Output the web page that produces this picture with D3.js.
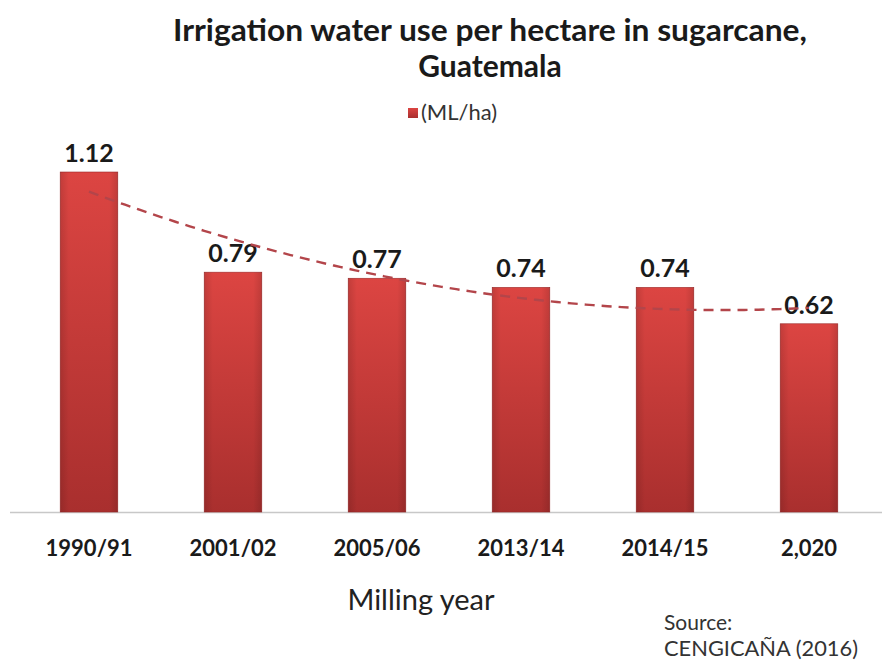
<!DOCTYPE html>
<html>
<head>
<meta charset="utf-8">
<script src="https://cdn.jsdelivr.net/npm/d3@7"></script>
<style>
  body { margin: 0; background: #fff; }
  text { font-family: Lato, "Open Sans", sans-serif; }
</style>
</head>
<body>
<svg id="chart" width="892" height="665"></svg>
<script>
const categories = ['1990/91', '2001/02', '2005/06', '2013/14', '2014/15', '2020']
const categoryLabels = ['1990/91', '2001/02', '2005/06', '2013/14', '2014/15', '2,020']
const waterUse = [1.12, 0.79, 0.77, 0.74, 0.74, 0.62]
const valueLabels = ['1.12', '0.79', '0.77', '0.74', '0.74', '0.62']

const svg = d3.select('#chart')
const baseY = 512

const x = d3.scaleBand().domain(categories).range([17, 881]).paddingInner(0.6).paddingOuter(0.3)
const y = d3.scaleLinear().domain([0, 1.12]).range([baseY, 172])

// bar gradient, lighter at the top
const defs = svg.append('defs')
const grad = defs.append('linearGradient').attr('id', 'barGrad')
  .attr('x1', 0).attr('y1', 0).attr('x2', 0).attr('y2', 1)
grad.append('stop').attr('offset', '0%').attr('stop-color', '#dc4542')
grad.append('stop').attr('offset', '100%').attr('stop-color', '#a92f2e')
const side = defs.append('linearGradient').attr('id', 'sideGrad')
side.append('stop').attr('offset', '0%').attr('stop-color', '#000').attr('stop-opacity', 0.12)
side.append('stop').attr('offset', '15%').attr('stop-color', '#000').attr('stop-opacity', 0)
side.append('stop').attr('offset', '85%').attr('stop-color', '#000').attr('stop-opacity', 0)
side.append('stop').attr('offset', '100%').attr('stop-color', '#000').attr('stop-opacity', 0.12)

// title
svg.append('text').attr('x', 490).attr('y', 41).attr('text-anchor', 'middle')
  .attr('font-size', 30).attr('font-weight', 'bold').attr('fill', '#1a1a1a')
  .attr('textLength', 634).attr('lengthAdjust', 'spacingAndGlyphs')
  .text('Irrigation water use per hectare in sugarcane,')
svg.append('text').attr('x', 490).attr('y', 77).attr('text-anchor', 'middle')
  .attr('font-size', 30).attr('font-weight', 'bold').attr('fill', '#1a1a1a')
  .text('Guatemala')

// legend
svg.append('rect').attr('x', 408).attr('y', 108).attr('width', 10).attr('height', 10)
  .attr('fill', 'url(#barGrad)')
svg.append('text').attr('x', 421).attr('y', 120).attr('font-size', 22).attr('fill', '#333')
  .text('(ML/ha)')

// axis line
svg.append('line').attr('x1', 10).attr('x2', 882).attr('y1', baseY + 0.5).attr('y2', baseY + 0.5)
  .attr('stroke', '#c8c8c8').attr('stroke-width', 1.5)

// bars
const bars = svg.append('g')
bars.selectAll('rect.bar').data(waterUse).join('rect').attr('class', 'bar')
  .attr('x', (d, i) => x(categories[i]))
  .attr('y', d => y(d))
  .attr('width', x.bandwidth())
  .attr('height', d => baseY - y(d))
  .attr('fill', 'url(#barGrad)')
  .attr('stroke', '#9c2b2b').attr('stroke-width', 0.6)
bars.selectAll('rect.shade').data(waterUse).join('rect').attr('class', 'shade')
  .attr('x', (d, i) => x(categories[i]))
  .attr('y', d => y(d))
  .attr('width', x.bandwidth())
  .attr('height', d => baseY - y(d))
  .attr('fill', 'url(#sideGrad)')

// value labels
svg.append('g').selectAll('text').data(waterUse).join('text')
  .attr('x', (d, i) => x(categories[i]) + x.bandwidth() / 2)
  .attr('y', d => y(d) - 10)
  .attr('text-anchor', 'middle')
  .attr('font-size', 25).attr('font-weight', 'bold').attr('fill', '#1a1a1a')
  .text((d, i) => valueLabels[i])

// polynomial (order 2) trend line, least squares over x = 1..n
function quadFit(vals) {
  const n = vals.length
  const xs = d3.range(1, n + 1)
  const mx = d3.mean(xs)
  const t = xs.map(v => v - mx)
  const mt2 = d3.mean(t, v => v * v)
  const u = t.map(v => v * v - mt2)
  const a = d3.mean(vals)
  const b = d3.sum(t, (v, i) => v * vals[i]) / d3.sum(t, v => v * v)
  const c = d3.sum(u, (v, i) => v * vals[i]) / d3.sum(u, v => v * v)
  return xv => a + b * (xv - mx) + c * ((xv - mx) ** 2 - mt2)
}
const trend = quadFit(waterUse)
const step = x.step()
const x0 = x(categories[0]) + x.bandwidth() / 2
const trendPts = d3.range(1, waterUse.length + 0.001, 0.05).map(v => [x0 + (v - 1) * step, y(trend(v))])
svg.append('path').attr('d', d3.line()(trendPts))
  .attr('fill', 'none').attr('stroke', '#b3454a').attr('stroke-width', 2.4)
  .attr('stroke-dasharray', '10,7')

// category labels
svg.append('g').selectAll('text').data(categories).join('text')
  .attr('x', d => x(d) + x.bandwidth() / 2)
  .attr('y', 556)
  .attr('text-anchor', 'middle')
  .attr('font-size', 22).attr('font-weight', 'bold').attr('fill', '#1a1a1a')
  .text((d, i) => categoryLabels[i])

// axis title
svg.append('text').attr('x', 421).attr('y', 610).attr('text-anchor', 'middle')
  .attr('font-size', 29).attr('fill', '#222').text('Milling year')

// source
svg.append('text').attr('x', 664).attr('y', 630).attr('font-size', 21).attr('fill', '#333').text('Source:')
svg.append('text').attr('x', 664).attr('y', 656).attr('font-size', 21).attr('fill', '#333')
  .attr('textLength', 194).attr('lengthAdjust', 'spacingAndGlyphs').text('CENGICAÑA (2016)')
</script>
</body>
</html>
